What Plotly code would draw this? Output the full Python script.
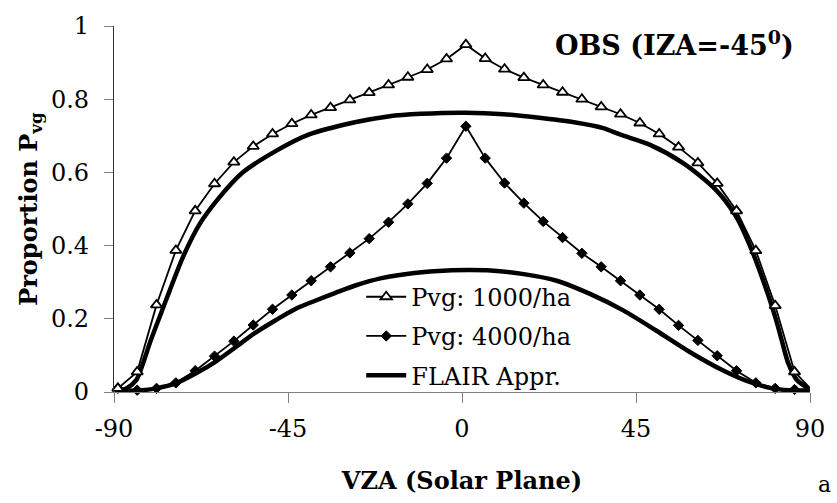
import plotly.graph_objects as go

# View zenith angles of the sampled directions (degrees)
vza = [-89, -84, -79, -74, -69, -64, -59, -54, -49, -44, -39, -34, -29, -24, -19,
       -14, -9, -4, 1, 6, 11, 16, 21, 26, 31, 36, 41, 46, 51, 56, 61, 66, 71, 76,
       81, 86, 90.5]

# Observed proportion of visible ground, 1000 trees/ha
pvg_1000 = [0.010, 0.055, 0.238, 0.387, 0.495, 0.569, 0.628, 0.671, 0.705, 0.733,
            0.757, 0.777, 0.798, 0.818, 0.839, 0.860, 0.881, 0.910, 0.949, 0.911,
            0.882, 0.859, 0.839, 0.819, 0.800, 0.779, 0.759, 0.735, 0.705, 0.669,
            0.626, 0.570, 0.495, 0.386, 0.236, 0.055, 0.005]

# Observed proportion of visible ground, 4000 trees/ha
pvg_4000 = [0.010, 0.005, 0.010, 0.025, 0.058, 0.098, 0.139, 0.183, 0.226, 0.265,
            0.304, 0.342, 0.380, 0.419, 0.464, 0.514, 0.570, 0.639, 0.726, 0.639,
            0.571, 0.516, 0.466, 0.422, 0.379, 0.342, 0.304, 0.265, 0.226, 0.182,
            0.141, 0.099, 0.058, 0.025, 0.010, 0.007, 0.007]

# FLAIR approximation, 1000 trees/ha
flair_1000_x = [-89, -86.7, -84.2, -82.5, -80.8, -78.2, -75.6, -72.2, -67.9, -62.8,
                -56.8, -48.2, -39.7, -27.7, -19.1, -10.6, 1, 10.8, 19.4, 29.0,
                36.5, 41.0, 48.5, 57.1, 65.6, 70.8, 75.0, 78.5, 81.0, 82.7, 84.4,
                86.6, 89.6]
flair_1000_y = [0.003, 0.010, 0.033, 0.078, 0.132, 0.205, 0.277, 0.368, 0.458, 0.531,
                0.599, 0.658, 0.703, 0.737, 0.753, 0.760, 0.763, 0.759, 0.750, 0.737,
                0.721, 0.703, 0.676, 0.626, 0.553, 0.481, 0.386, 0.286, 0.205, 0.141,
                0.078, 0.033, 0.010]

# FLAIR approximation, 4000 trees/ha
flair_4000_x = [-89, -84, -79.0, -73.9, -68.8, -63.6, -58.5, -53.4, -48.2, -43.1,
                -37.8, -32.7, -27.6, -20.8, -12.3, -3.7, 1.4, 7.4, 16.0, 24.5,
                33.1, 41.7, 50.2, 58.8, 67.3, 74.2, 80.2, 84.4, 90.5]
flair_4000_y = [0.003, 0.004, 0.010, 0.024, 0.051, 0.084, 0.123, 0.162, 0.196, 0.227,
                0.250, 0.271, 0.291, 0.311, 0.325, 0.332, 0.333, 0.332, 0.322, 0.304,
                0.268, 0.223, 0.168, 0.110, 0.060, 0.028, 0.010, 0.005, 0.003]

x_ticks = [-90, -45, 0, 45, 90]
y_ticks = [0, 0.2, 0.4, 0.6, 0.8, 1]
y_tick_text = ["0", "0.2", "0.4", "0.6", "0.8", "1"]

SERIF = "DejaVu Serif"

# Plot area in page pixels
M_L, M_R, M_T, M_B = 114, 22, 24, 111
PLOT_W = 837 - M_L - M_R
PLOT_H = 503 - M_T - M_B


def px_to_paper(px, py):
    return (px - M_L) / PLOT_W, (503 - M_B - py) / PLOT_H


def serif(size):
    return dict(family=SERIF, size=size, color="black")


fig = go.Figure()

flair_line = dict(color="black", width=4.5, shape="spline", smoothing=0.8)
fig.add_trace(go.Scatter(x=flair_1000_x, y=flair_1000_y, mode="lines",
                         name="FLAIR Appr.", legendgroup="flair", legendrank=3,
                         line=flair_line, cliponaxis=False))
fig.add_trace(go.Scatter(x=flair_4000_x, y=flair_4000_y, mode="lines",
                         name="FLAIR Appr.", legendgroup="flair", showlegend=False,
                         line=flair_line, cliponaxis=False))

fig.add_trace(go.Scatter(x=vza, y=pvg_4000, mode="lines+markers",
                         name="Pvg: 4000/ha", legendgroup="d4000", legendrank=2,
                         line=dict(color="black", width=1.8),
                         marker=dict(symbol="diamond", size=8, color="black",
                                     line=dict(color="black", width=1)),
                         cliponaxis=False))
fig.add_trace(go.Scatter(x=vza, y=pvg_1000, mode="lines+markers",
                         name="Pvg: 1000/ha", legendgroup="d1000", legendrank=1,
                         line=dict(color="black", width=1.8),
                         marker=dict(symbol="triangle-up", size=10, color="white",
                                     line=dict(color="black", width=1.8)),
                         cliponaxis=False))

title_x, title_y = px_to_paper(801, 42)
a_x, a_y = px_to_paper(830, 485)
leg_x, leg_y = px_to_paper(363, 274)

fig.update_layout(
    width=837, height=503, autosize=False,
    margin=dict(l=M_L, r=M_R, t=M_T, b=M_B),
    paper_bgcolor="white", plot_bgcolor="white",
    font=serif(24),
    legend=dict(x=leg_x, y=leg_y, xanchor="left", yanchor="top",
                bgcolor="rgba(0,0,0,0)", borderwidth=0, traceorder="grouped",
                font=serif(24), tracegroupgap=5, itemwidth=40),
    xaxis=dict(range=[-90, 90], tickvals=x_ticks, ticktext=[str(v) for v in x_ticks],
               showgrid=False, zeroline=False, showline=True,
               linecolor="#808080", linewidth=1.3,
               ticks="outside", ticklen=10, tickcolor="#808080", tickwidth=1.3,
               tickfont=serif(24), ticklabelstandoff=5,
               title=dict(text="<b>VZA (Solar Plane)</b>", font=serif(24), standoff=30)),
    yaxis=dict(range=[0, 1], tickvals=y_ticks, ticktext=y_tick_text,
               showgrid=False, zeroline=False, showline=True,
               linecolor="#333333", linewidth=1.3,
               ticks="outside", ticklen=9, tickcolor="#808080", tickwidth=1.3,
               tickfont=serif(24), ticklabelstandoff=10,
               title=dict(text="<b>Proportion P<sub>vg</sub></b>", font=serif(24),
                          standoff=6)),
    annotations=[
        dict(text="<b>OBS (IZA=-45<sup>0</sup>)</b>", x=title_x, y=title_y,
             xref="paper", yref="paper", xanchor="right", yanchor="middle",
             showarrow=False, font=serif(27)),
        dict(text="a", x=a_x, y=a_y, xref="paper", yref="paper",
             xanchor="center", yanchor="middle",
             showarrow=False, font=serif(22)),
    ],
)

fig.write_html("out.html")
